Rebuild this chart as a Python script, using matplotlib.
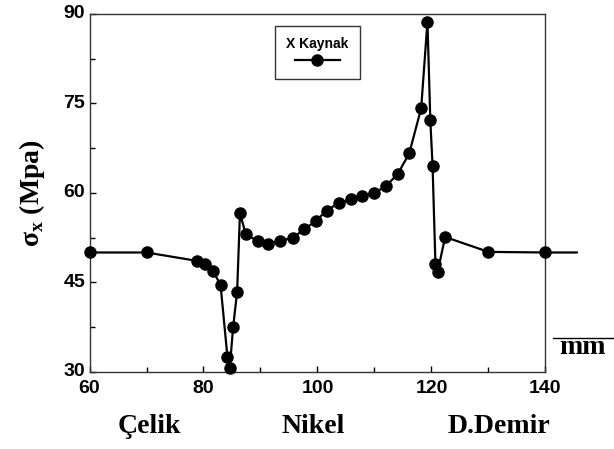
import matplotlib
matplotlib.use('Agg')
import matplotlib.pyplot as plt
from matplotlib.lines import Line2D

# distance along the joint (mm) and sigma_x stress (MPa)
mesafe = [60, 70, 78.8, 80.2, 81.7, 83.0, 84.2, 84.6, 85.2, 85.9, 86.4, 87.4,
          89.5, 91.3, 93.4, 95.7, 97.7, 99.7, 101.6, 103.7, 105.9, 107.8,
          110.0, 112.0, 114.1, 116.1, 118.2, 119.3, 119.8, 120.2, 120.7,
          121.1, 122.4, 130.0, 140.0, 145.5]
gerilme = [50, 50, 48.6, 48.0, 46.9, 44.5, 32.5, 30.6, 37.5, 43.4, 56.6, 53.1,
           51.9, 51.5, 51.9, 52.5, 53.9, 55.3, 57.0, 58.3, 58.9, 59.4,
           60.0, 61.1, 63.2, 66.6, 74.2, 88.7, 72.2, 64.5, 48.1,
           46.8, 52.6, 50.1, 50.0, 50.0]

x_ticks = [60, 80, 100, 120, 140]
y_ticks = [30, 45, 60, 75, 90]
bolgeler = ['Çelik', 'Nikel', 'D.Demir']
bolge_x = [0.243, 0.51, 0.813]

serif = ['Liberation Serif', 'DejaVu Serif']
sans = ['Liberation Sans', 'DejaVu Sans']

plt.rcParams['mathtext.fontset'] = 'custom'
plt.rcParams['mathtext.rm'] = 'Liberation Serif:bold'
plt.rcParams['mathtext.bf'] = 'Liberation Serif:bold'

fig = plt.figure(figsize=(6.14, 4.49), dpi=100)
ax = fig.add_axes([0.1458, 0.172, 0.7425, 0.797])

line, = ax.plot(mesafe, gerilme, '-o', color='black', lw=1.6, ms=8,
                markevery=list(range(len(mesafe) - 1)), clip_on=False, zorder=3)

ax.set_xlim(60, 140)
ax.set_ylim(30, 90)
ax.set_xticks(x_ticks)
ax.set_yticks(y_ticks)
ax.set_xticks([70, 90, 110, 130], minor=True)
ax.set_yticks([37.5, 52.5, 67.5, 82.5], minor=True)
ax.tick_params(which='both', direction='in', top=False, right=False, width=1)
ax.tick_params(which='major', length=4.5)
ax.tick_params(which='minor', length=3.5)
ax.tick_params(axis='x', pad=6)
ax.tick_params(axis='y', pad=3)
for lab in ax.get_xticklabels() + ax.get_yticklabels():
    lab.set_fontfamily(sans)
    lab.set_fontweight('bold')
    lab.set_fontsize(14)
for lab in ax.get_yticklabels():
    lab.set_verticalalignment('center')
for sp in ax.spines.values():
    sp.set_linewidth(1.0)
    sp.set_color('#333333')

ax.set_ylabel(r'σ$_\mathrm{x}$ (Mpa)', family=serif, fontweight='bold', fontsize=20, labelpad=12)

for name, xp in zip(bolgeler, bolge_x):
    fig.text(xp, 0.05, name, family=serif, fontweight='bold', fontsize=20,
             ha='center', va='center')

# mm unit with a bar above it
fig.text(0.948, 0.225, 'mm', family=serif, fontweight='bold', fontsize=20,
         ha='center', va='center')
fig.add_artist(Line2D([0.9, 1.0], [0.247, 0.247], color='black', lw=1.0,
                      transform=fig.transFigure))

leg = ax.legend([line], [''], title='X Kaynak', loc='upper left',
                bbox_to_anchor=(0.392, 0.985), fancybox=False, framealpha=1,
                edgecolor='#333333', handlelength=3.2, handletextpad=0.0,
                borderpad=0.8, fontsize=10, labelspacing=0.2,
                title_fontproperties={'family': sans, 'weight': 'bold', 'size': 10})
leg.get_frame().set_linewidth(1.0)

fig.savefig('out.png', dpi=100)
